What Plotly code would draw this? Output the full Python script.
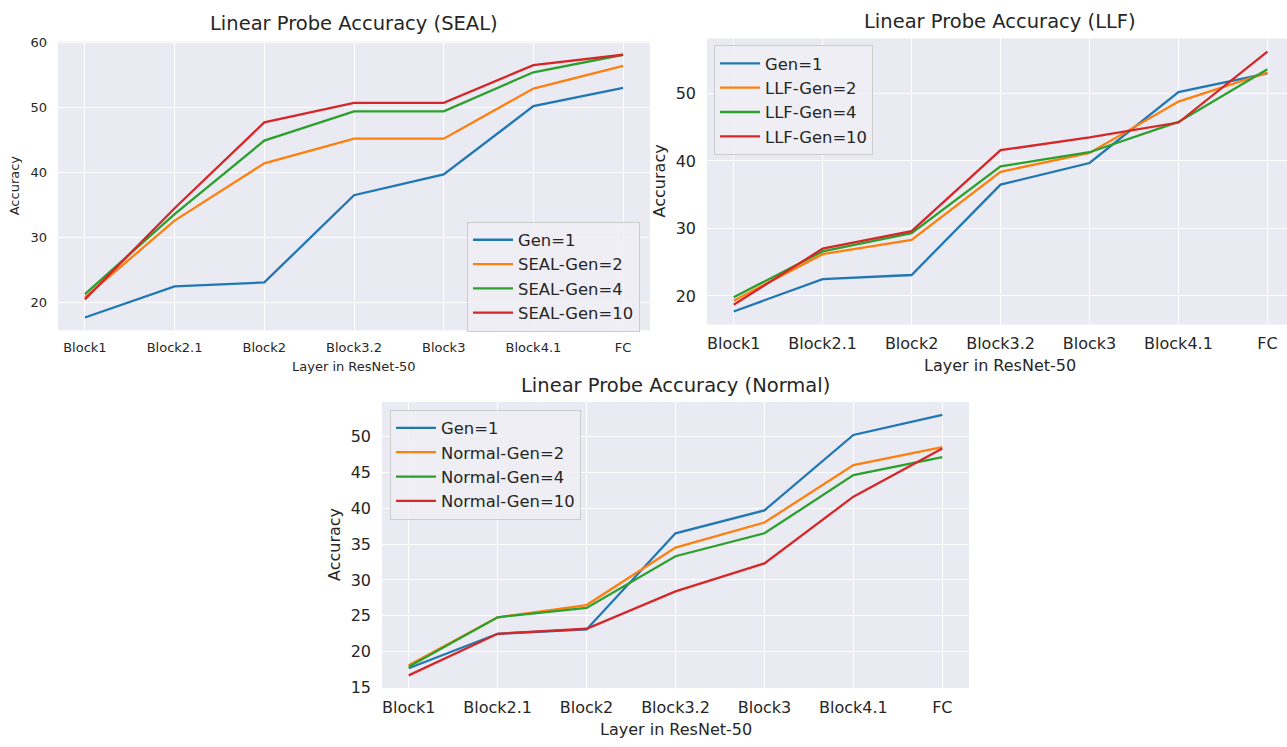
import plotly.graph_objects as go

# ---------------- data ----------------
layers = ["Block1", "Block2.1", "Block2", "Block3.2", "Block3", "Block4.1", "FC"]

gen1 = [17.7, 22.5, 23.1, 36.5, 39.7, 50.2, 53.0]

seal_gen2 = [20.8, 32.6, 41.4, 45.2, 45.2, 52.9, 56.4]
seal_gen4 = [21.3, 33.6, 44.9, 49.4, 49.4, 55.4, 58.1]
seal_gen10 = [20.5, 34.5, 47.7, 50.7, 50.7, 56.5, 58.1]

llf_gen2 = [19.3, 26.2, 28.3, 38.4, 41.2, 48.8, 53.1]
llf_gen4 = [19.8, 26.6, 29.3, 39.2, 41.3, 45.8, 53.6]
llf_gen10 = [18.7, 27.0, 29.6, 41.6, 43.5, 45.7, 56.2]

normal_gen2 = [18.1, 24.8, 26.5, 34.5, 38.0, 46.0, 48.5]
normal_gen4 = [17.9, 24.8, 26.1, 33.3, 36.5, 44.6, 47.1]
normal_gen10 = [16.7, 22.5, 23.2, 28.4, 32.3, 41.6, 48.3]

panels = [
    ("SEAL", [("Gen=1", gen1), ("SEAL-Gen=2", seal_gen2),
              ("SEAL-Gen=4", seal_gen4), ("SEAL-Gen=10", seal_gen10)]),
    ("LLF", [("Gen=1", gen1), ("LLF-Gen=2", llf_gen2),
             ("LLF-Gen=4", llf_gen4), ("LLF-Gen=10", llf_gen10)]),
    ("Normal", [("Gen=1", gen1), ("Normal-Gen=2", normal_gen2),
                ("Normal-Gen=4", normal_gen4), ("Normal-Gen=10", normal_gen10)]),
]

# ---------------- style / layout ----------------
W, H = 1287, 747
colors = ["#1f77b4", "#ff7f0e", "#2ca02c", "#d62728"]
TXT = "#262626"
FONT = "DejaVu Sans"
BG = "#EAEAF2"

# pixel boxes: (left, right, top, bottom)
boxes = [(58, 650, 36, 331), (707, 1287, 33, 325), (382, 969, 404, 696)]
xranges = [[-0.3, 6.3], [-0.3, 6.22], [-0.3, 6.3]]
yranges = [[15.73, 60.17], [15.77, 58.18], [14.94, 54.81]]
ydticks = [10, 10, 5]
tickfont = [13, 16, 16]
labelfont = [13, 16, 16]
legpos = [(467, 220), (714, 40), (390, 412)]
ylabel_x = [14.5, 659, 335]
xlabel_y = [368, 367, 738]
title_y = [18, 16, 387]

fig = go.Figure()
annotations = []
for i, (name, series) in enumerate(panels):
    k = "" if i == 0 else str(i + 1)
    leg = "legend" + k
    for j, (lab, vals) in enumerate(series):
        fig.add_trace(go.Scatter(
            x=layers, y=vals, mode="lines", name=lab,
            line=dict(color=colors[j], width=2.3),
            xaxis="x" + k, yaxis="y" + k, legend=leg,
        ))
    l, r, t, b = boxes[i]
    dom_x = [l / W, r / W]
    dom_y = [1 - b / H, 1 - t / H]
    fig.update_layout(**{
        "xaxis" + k: dict(
            domain=dom_x, anchor="y" + k, type="category",
            categoryorder="array", categoryarray=layers,
            range=xranges[i], showgrid=True, gridcolor="white", gridwidth=1.3,
            zeroline=False, showline=False, ticks="",
            tickfont=dict(family=FONT, size=tickfont[i], color=TXT),
            ticklabelstandoff=8,
        ),
        "yaxis" + k: dict(
            domain=dom_y, anchor="x" + k, range=yranges[i],
            dtick=ydticks[i], tick0=0, showgrid=True, gridcolor="white",
            gridwidth=1.3, zeroline=False, showline=False, ticks="",
            tickfont=dict(family=FONT, size=tickfont[i], color=TXT),
            ticklabelstandoff=10,
        ),
        leg: dict(
            x=legpos[i][0] / W, y=1 - legpos[i][1] / H,
            xanchor="left", yanchor="top", xref="paper", yref="paper",
            bgcolor="rgba(238,238,244,0.85)", bordercolor="#CCCCCC",
            borderwidth=1, font=dict(family=FONT, size=16.4, color=TXT),
            tracegroupgap=0, itemwidth=40,
        ),
    })
    cx = (l + r) / 2 / W
    if i == 1:
        cx = (l + 1267 + 26) / 2 / W
    annotations.append(dict(
        text=f"Linear Probe Accuracy ({name})", x=cx, y=1 - title_y[i] / H,
        xref="paper", yref="paper", xanchor="center", yanchor="middle",
        showarrow=False, font=dict(family=FONT, size=19.5, color=TXT)))
    annotations.append(dict(
        text="Layer in ResNet-50", x=cx, y=1 - xlabel_y[i] / H,
        xref="paper", yref="paper", xanchor="center", yanchor="middle",
        showarrow=False, font=dict(family=FONT, size=labelfont[i], color=TXT)))
    annotations.append(dict(
        text="Accuracy", x=ylabel_x[i] / W, y=1 - (t + b) / 2 / H,
        xref="paper", yref="paper", xanchor="center", yanchor="middle",
        textangle=-90, showarrow=False,
        font=dict(family=FONT, size=labelfont[i], color=TXT)))

fig.update_layout(
    width=W, height=H, autosize=False,
    margin=dict(l=0, r=0, t=0, b=0),
    paper_bgcolor="white", plot_bgcolor=BG,
    font=dict(family=FONT, color=TXT),
    annotations=annotations, showlegend=True,
)

fig.write_html(
    "out.html",
    config={"displayModeBar": False},
    post_script="document.body.style.margin='0px';"
                "document.body.style.padding='0px';"
                "document.body.style.overflow='hidden';",
)
